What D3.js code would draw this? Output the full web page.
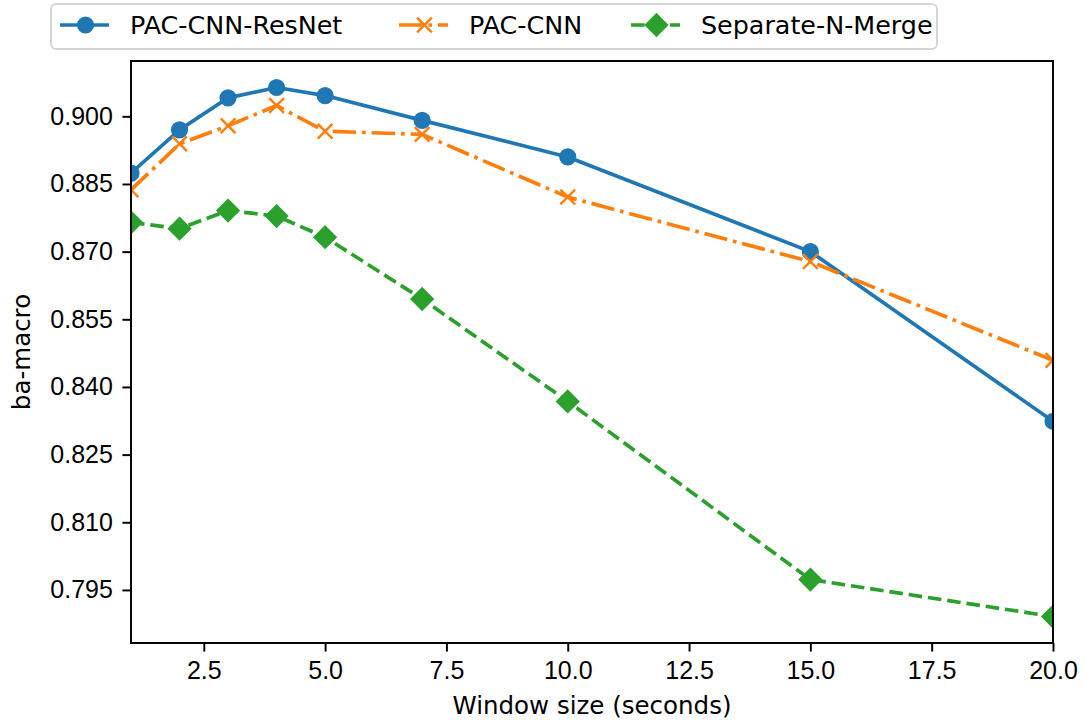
<!DOCTYPE html>
<html lang="en">
<head>
<meta charset="UTF-8">
<title>ba-macro vs window size</title>
<script src="https://d3js.org/d3.v7.min.js"></script>
<style>
    body { margin: 0; background: #fff; }
    svg { display: block; font-family: "DejaVu Sans", sans-serif; }
</style>
</head>
<body>
<div id="chart"></div>
<script>
// values
const windowSizes = [1, 2, 3, 4, 5, 7, 10, 15, 20];
const pacCnnResNet = [0.8874, 0.8970, 0.9041, 0.9064, 0.9046, 0.8991, 0.8910, 0.8700, 0.8324];
const pacCnn = [0.8837, 0.8939, 0.8979, 0.9024, 0.8967, 0.8960, 0.8821, 0.8678, 0.8459];
const separateNMerge = [0.8765, 0.8751, 0.8791, 0.8779, 0.8732, 0.8595, 0.8368, 0.7973, 0.7891];

const xTicks = [2.5, 5.0, 7.5, 10.0, 12.5, 15.0, 17.5, 20.0];
const yTicks = [0.795, 0.810, 0.825, 0.840, 0.855, 0.870, 0.885, 0.900];

const seriesNames = ["PAC-CNN-ResNet", "PAC-CNN", "Separate-N-Merge"];

const width = 1087, height = 720;
const margin = { top: 61, right: 34, bottom: 77, left: 131 };
const pt = 2.45; // px per point

const series = [
    { name: seriesNames[0], values: pacCnnResNet, color: "#1f77b4", marker: "o", dash: null },
    { name: seriesNames[1], values: pacCnn, color: "#ff7f0e", marker: "x", dash: [6.4, 1.6, 1, 1.6] },
    { name: seriesNames[2], values: separateNMerge, color: "#2ca02c", marker: "D", dash: [3.7, 1.6] }
];

const lw = 1.5 * pt;
const dashArray = d => d ? d.map(v => v * lw).join(",") : null;

// y limits like matplotlib's 5% autoscale margin
const all = series.flatMap(s => s.values);
const yMin = d3.min(all), yMax = d3.max(all);
const pad = (yMax - yMin) * 0.05;

const x = d3.scaleLinear().domain([1, 20]).range([margin.left, width - margin.right]);
const y = d3.scaleLinear().domain([yMin - pad, yMax + pad]).range([height - margin.bottom, margin.top]);

const svg = d3.select("#chart").append("svg")
    .attr("width", width)
    .attr("height", height);

svg.append("clipPath").attr("id", "clip")
    .append("rect")
    .attr("x", margin.left).attr("y", margin.top)
    .attr("width", width - margin.left - margin.right)
    .attr("height", height - margin.top - margin.bottom);

function drawMarker(g, type, color, cx, cy) {
    const ms = 6 * pt;
    if (type === "o") {
        g.append("circle").attr("cx", cx).attr("cy", cy).attr("r", ms / 2)
            .attr("fill", color).attr("stroke", color).attr("stroke-width", pt);
    } else if (type === "x") {
        const h = ms / 2;
        g.append("path")
            .attr("d", `M${cx - h},${cy - h}L${cx + h},${cy + h}M${cx - h},${cy + h}L${cx + h},${cy - h}`)
            .attr("stroke", color).attr("stroke-width", pt).attr("fill", "none");
    } else {
        const h = ms * Math.SQRT2 / 2;
        g.append("path")
            .attr("d", `M${cx},${cy - h}L${cx + h},${cy}L${cx},${cy + h}L${cx - h},${cy}Z`)
            .attr("fill", color).attr("stroke", color).attr("stroke-width", pt)
            .attr("stroke-linejoin", "miter");
    }
}

const plot = svg.append("g").attr("clip-path", "url(#clip)");

const line = d3.line()
    .x((d, i) => x(windowSizes[i]))
    .y(d => y(d));

series.forEach(s => {
    plot.append("path")
        .datum(s.values)
        .attr("d", line)
        .attr("fill", "none")
        .attr("stroke", s.color)
        .attr("stroke-width", lw)
        .attr("stroke-dasharray", dashArray(s.dash))
        .attr("stroke-linejoin", "round")
        .attr("stroke-linecap", s.dash ? "butt" : "square");
    s.values.forEach((v, i) => drawMarker(plot, s.marker, s.color, x(windowSizes[i]), y(v)));
});

// axes
const tickLen = 3.5 * pt, tickPad = 3.5 * pt;
const xAxis = svg.append("g")
    .attr("transform", `translate(0,${height - margin.bottom})`)
    .call(d3.axisBottom(x).tickValues(xTicks).tickFormat(d3.format(".1f"))
        .tickSize(tickLen).tickPadding(tickPad).tickSizeOuter(0));
const yAxis = svg.append("g")
    .attr("transform", `translate(${margin.left},0)`)
    .call(d3.axisLeft(y).tickValues(yTicks).tickFormat(d3.format(".3f"))
        .tickSize(tickLen).tickPadding(tickPad + 1).tickSizeOuter(0));

[xAxis, yAxis].forEach(a => {
    a.select(".domain").remove();
    a.selectAll(".tick line").attr("stroke", "#000").attr("stroke-width", 0.8 * pt);
    a.selectAll(".tick text").attr("fill", "#000").style("font-size", "25px");
});
xAxis.selectAll(".tick text").attr("dy", null).attr("y", tickLen + tickPad)
    .attr("dominant-baseline", "hanging");

// frame
svg.append("rect")
    .attr("x", margin.left).attr("y", margin.top)
    .attr("width", width - margin.left - margin.right)
    .attr("height", height - margin.top - margin.bottom)
    .attr("fill", "none")
    .attr("stroke", "#000")
    .attr("stroke-width", 0.8 * pt);

// axis labels
svg.append("text")
    .attr("x", (margin.left + width - margin.right) / 2)
    .attr("y", 714)
    .attr("text-anchor", "middle")
    .style("font-size", "24.5px")
    .text("Window size (seconds)");

svg.append("text")
    .attr("transform", `translate(30,${(margin.top + height - margin.bottom) / 2}) rotate(-90)`)
    .attr("text-anchor", "middle")
    .style("font-size", "24.5px")
    .text("ba-macro");

// legend above the axes
const legend = svg.append("g");
legend.append("rect")
    .attr("x", 51).attr("y", 4)
    .attr("width", 886).attr("height", 45)
    .attr("rx", 5).attr("ry", 5)
    .attr("fill", "#fff")
    .attr("stroke", "#d6d6d6")
    .attr("stroke-width", 2);

const handleX = [60, 399, 631];
const handleLen = 49;
const legendY = 25;
series.forEach((s, i) => {
    const g = legend.append("g");
    g.append("line")
        .attr("x1", handleX[i]).attr("x2", handleX[i] + handleLen)
        .attr("y1", legendY).attr("y2", legendY)
        .attr("stroke", s.color)
        .attr("stroke-width", lw)
        .attr("stroke-dasharray", dashArray(s.dash));
    drawMarker(g, s.marker, s.color, handleX[i] + handleLen / 2 + 1, legendY);
    g.append("text")
        .attr("x", handleX[i] + handleLen + 21)
        .attr("y", legendY + 9)
        .style("font-size", "25.4px")
        .text(s.name);
});
</script>
</body>
</html>
